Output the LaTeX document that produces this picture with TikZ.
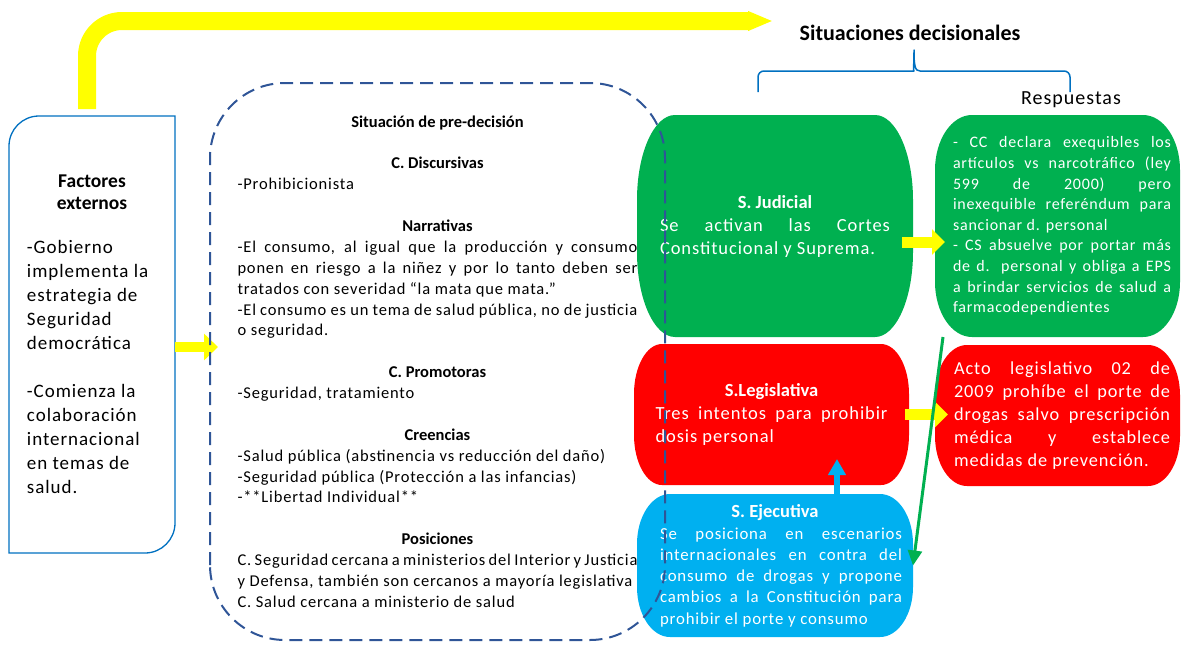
\documentclass[tikz,border=0pt]{standalone}
\usepackage{fontspec}
\setmainfont{Carlito}
\newfontfamily\bodyfont{Carlito}[LetterSpace=5]
\usetikzlibrary{arrows.meta,backgrounds}
\definecolor{yelw}{RGB}{255,255,0}
\definecolor{judgreen}{RGB}{0,176,80}
\definecolor{legred}{RGB}{255,0,0}
\definecolor{ejeblue}{RGB}{0,176,240}
\definecolor{lineblue}{RGB}{0,112,192}
\definecolor{dashblue}{RGB}{47,85,151}
\newcommand\hd[1]{{\normalfont\bfseries #1}}
\newcommand\boxtext[4]{\parbox[t]{#1pt}{\bodyfont\fontsize{#2}{#3}\selectfont\tolerance=9999\hbadness=10000\hyphenpenalty=10000 #4}}
% node, x radius, y radius, colour
\newcommand\blob[4]{%
  \fill[#4] ([xshift=#2]#1.north west) -- ([xshift=-#2]#1.north east)
    arc[start angle=90,end angle=0,x radius=#2,y radius=#3]
    -- ([yshift=#3]#1.south east)
    arc[start angle=0,end angle=-90,x radius=#2,y radius=#3]
    -- ([xshift=#2]#1.south west)
    arc[start angle=270,end angle=180,x radius=#2,y radius=#3]
    -- ([yshift=-#3]#1.north west)
    arc[start angle=180,end angle=90,x radius=#2,y radius=#3] -- cycle;}
\tikzset{
YARROW/.style={draw=yelw,line width=#1},
FRAME/.style={draw=lineblue,line width=1.3pt},
DASHFRAME/.style={draw=dashblue,line width=2pt,dash pattern=on 13pt off 7pt,rounded corners=75pt},
SBOX/.style={text=white,align=center,minimum width=#1},
BRACE/.style={draw=lineblue,line width=1.5pt,line join=round},
}

\begin{document}
\begin{tikzpicture}[x=1pt,y=1pt,every node/.style={inner sep=0pt,outer sep=0pt}]
	\useasboundingbox (0,0) rectangle (1181,-645);
	% factores externos
	\node[minimum width=166,minimum height=437] (fx) at (92,-334.5) {};
	\draw[FRAME] (fx.south west) -- ([yshift=-30]fx.north west) arc[start angle=180,end angle=90,radius=30]
		-- (fx.north east) -- ([yshift=30]fx.south east) arc[start angle=0,end angle=-90,radius=30] -- cycle;
	\node[align=center,font=\bfseries\fontsize{19.5}{22}\selectfont] (fxtitle) at (92,-192) {Factores\\externos};
	\node[anchor=north west,align=left,font=\bodyfont\fontsize{19}{24}\selectfont] (fxlist) at (27,-240)
		{-Gobierno\\implementa la\\estrategia de\\Seguridad\\democrática\\[24pt]-Comienza la\\colaboración\\internacional\\en temas de\\salud.};
	% situacion de pre-decision
	\node[minimum width=455,minimum height=557] (pd) at (437.5,-361.5) {\boxtext{400}{16.5}{20.87}{%
		\centerline{\hd{Situación de pre-decisión}}\vspace{\baselineskip}
		\centerline{\hd{C. Discursivas}}
		-Prohibicionista\par\vspace{\baselineskip}
		\centerline{\hd{Narrativas}}
		-El consumo, al igual que la producción y consumo\linebreak ponen en riesgo a la niñez y por lo tanto deben ser\linebreak tratados con severidad “la mata que mata.”\par
		-El consumo es un tema de salud pública, no de justicia\linebreak o seguridad.\par\vspace{\baselineskip}
		\centerline{\hd{C. Promotoras}}
		-Seguridad, tratamiento\par\vspace{\baselineskip}
		\centerline{\hd{Creencias}}
		-Salud pública (abstinencia vs reducción del daño)\par
		-Seguridad pública (Protección a las infancias)\par
		-**Libertad Individual**\par\vspace{\baselineskip}
		\centerline{\hd{Posiciones}}
		C. Seguridad cercana a ministerios del Interior y Justicia\linebreak y Defensa, también son cercanos a mayoría legislativa\par
		C. Salud cercana a ministerio de salud}};
	% situaciones decisionales
	\node[SBOX=276,minimum height=222,font=\fontsize{18.5}{23}\selectfont] (sj) at (775,-226)
		{\hd{S. Judicial}\\\boxtext{230}{18.5}{23}{Se activan las Cortes\linebreak Constitucional y Suprema.}};
	\node[SBOX=275,minimum height=141,font=\fontsize{18.5}{23}\selectfont] (sl) at (771.5,-414.5)
		{\hd{S.Legislativa}\\\boxtext{232}{18.5}{23}{Tres intentos para prohibir\linebreak dosis personal}};
	\node[SBOX=276,minimum height=143,font=\fontsize{18.5}{22}\selectfont] (se) at (775,-565.5)
		{\hd{S. Ejecutiva}\\\hspace*{12pt}\boxtext{242}{16.8}{21.3}{Se posiciona en escenarios\linebreak internacionales en contra del\linebreak consumo de drogas y propone\linebreak cambios a la Constitución para\linebreak prohibir el porte y consumo}};
	% respuestas
	\node[minimum width=245,minimum height=222,text=white] (rj) at (1057.5,-226)
		{\hspace*{9pt}\boxtext{218}{16}{20.6}{- CC declara exequibles los\linebreak artículos vs narcotráfico (ley\linebreak 599 de 2000) pero\linebreak inexequible referéndum para\linebreak sancionar d. personal\\- CS absuelve por portar más\linebreak de d. personal y obliga a EPS\linebreak a brindar servicios de salud a\linebreak farmacodependientes}};
	\node[minimum width=245,minimum height=141,text=white] (rl) at (1057.5,-415.5)
		{\hspace*{9pt}\boxtext{216}{18.3}{23}{Acto legislativo 02 de\linebreak 2009 prohíbe el porte de\linebreak drogas salvo prescripción\linebreak médica y establece\linebreak medidas de prevención.}};
	\begin{pgfonlayer}{background}
		\blob{sj}{38}{85}{judgreen}
		\blob{sl}{28}{50}{legred}
		\blob{se}{33}{50}{ejeblue}
		\blob{rj}{37}{55}{judgreen}
		\blob{rl}{32}{50}{legred}
	\end{pgfonlayer}
	% titulos y llave
	\node[font=\bfseries\fontsize{22}{26}\selectfont] (sit) at (910,-33) {Situaciones decisionales};
	\node[font=\bodyfont\fontsize{20}{24}\selectfont] (resp) at (1071,-100) {Respuestas};
	\draw[BRACE] (758,-92) [rounded corners=6pt] |- (908,-71) [sharp corners]
		.. controls (913,-71) and (914,-66) .. (914,-50)
		.. controls (914,-66) and (915,-71) .. (920,-71) [rounded corners=6pt] -| (1070,-92);
	% flechas
	\coordinate (topend) at (773,-21);
	\coordinate (pdin) at (218,-347);
	\draw[YARROW=18pt,rounded corners=35pt,-{Triangle[length=25pt,width=18pt]}] ([xshift=-5,yshift=7]fx.north) |- (topend);
	\draw[YARROW=10pt,-{Triangle[length=14pt,width=26pt]}] ([yshift=-12.5]fx.east) -- (pdin);
	\draw[YARROW=11pt,-{Triangle[length=13pt,width=25pt]}] ([xshift=-11,yshift=-16]sj.east) -- ([xshift=10,yshift=-16]rj.west);
	\draw[YARROW=11pt,-{Triangle[length=13pt,width=25pt]}] ([xshift=-4]sl.east) -- ([xshift=13]rl.west |- sl.east);
	\draw[draw=ejeblue,line width=6pt,-{Triangle[length=16pt,width=17pt]}] ([xshift=62]se.north) -- ([xshift=65.5,yshift=26]sl.south);
	\draw[draw=judgreen,line width=3pt,-{Triangle[length=15pt,width=14pt]}] ([xshift=8]rj.south west) -- (se.east);
	% marco discontinuo encima
	\draw[DASHFRAME] (pd.south west) rectangle (pd.north east);
\end{tikzpicture}
\end{document}
